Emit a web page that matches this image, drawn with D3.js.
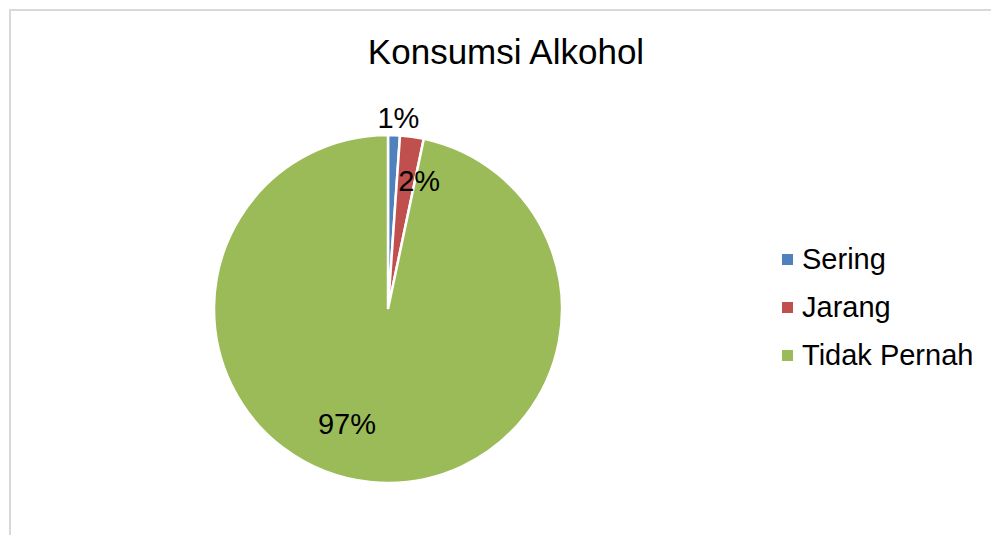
<!DOCTYPE html>
<html><head><meta charset="utf-8">
<script src="https://cdn.jsdelivr.net/npm/d3@7"></script>
<style>body{margin:0;background:#fff}svg{display:block}</style>
</head><body>
<script>
const title = "Konsumsi Alkohol";
const categories = ["Sering", "Jarang", "Tidak Pernah"];
const values = [1.1, 2.2, 96.7];
const labels = ["1%", "2%", "97%"];
const colors = ["#4f81bd", "#c0504d", "#9bbb59"];

const W = 991, H = 535;
const FONT = "'Liberation Sans', Arial, sans-serif";
const svg = d3.select("body").append("svg").attr("width", W).attr("height", H);
svg.append("rect").attr("width", W).attr("height", H).attr("fill", "#fff");
// chart area border
svg.append("path").attr("d", `M10,${H} L10,10 L${W},10`).attr("fill","none")
  .attr("stroke","#d9d9d9").attr("stroke-width",2);

svg.append("text").attr("x", 506).attr("y", 64).attr("text-anchor","middle")
  .attr("font-family",FONT).attr("font-size",35)
  .attr("fill","#000").text(title);

const cx = 388, cy = 309, R = 174;
const data = categories.map((c,i)=>({c, v: values[i], label: labels[i], color: colors[i]}));
const pie = d3.pie().value(d=>d.v).sort(null);
const arc = d3.arc().innerRadius(0).outerRadius(R);
const arcs = pie(data);
const g = svg.append("g").attr("transform", `translate(${cx},${cy})`);
g.selectAll("path").data(arcs).join("path").attr("d", arc)
  .attr("fill", d=>d.data.color).attr("stroke","#fff").attr("stroke-width",2.5);

// label placement (Excel best fit): radius factor and angle offset per slice
const place = [{r:1.10, da:0.02}, {r:0.76, da:0.10}, {r:0.70, da:0.24}];
g.selectAll("text.lbl").data(arcs).join("text").attr("class","lbl")
  .each(function(d,i){
    const a = (d.startAngle + d.endAngle)/2 + place[i].da;
    const rr = R*place[i].r;
    d3.select(this).attr("x", Math.sin(a)*rr).attr("y", -Math.cos(a)*rr + 10);
  })
  .attr("text-anchor","middle")
  .attr("font-family",FONT).attr("font-size",29)
  .attr("fill","#000").text(d=>d.data.label);

const lg = svg.append("g");
const rowY = d3.scalePoint().domain(categories).range([269, 365]);
categories.forEach((c,i)=>{
  lg.append("rect").attr("x",782).attr("y",rowY(c)-15).attr("width",11).attr("height",11).attr("fill",colors[i]);
  lg.append("text").attr("x",802).attr("y",rowY(c))
    .attr("font-family",FONT).attr("font-size",29)
    .attr("fill","#000").text(c);
});
</script>
</body></html>
